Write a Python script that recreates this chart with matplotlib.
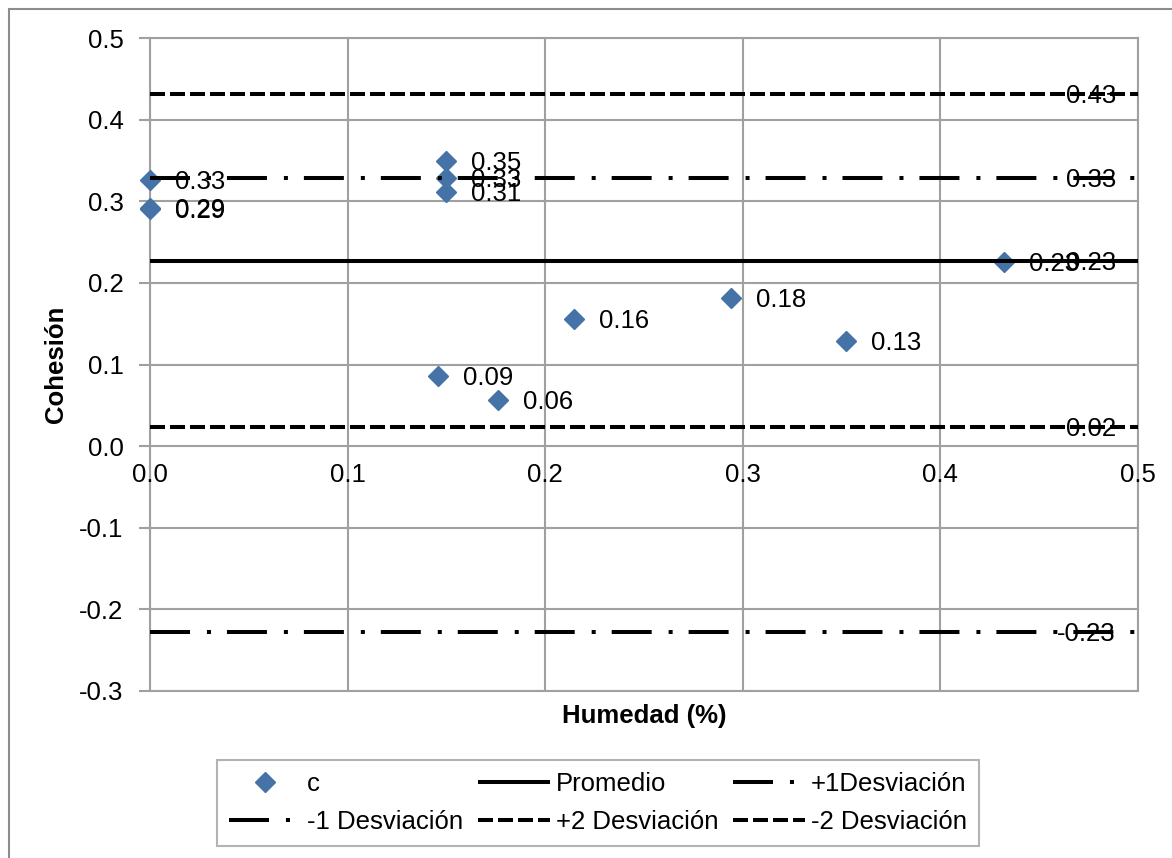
import matplotlib
matplotlib.use("Agg")
import matplotlib.pyplot as plt
from matplotlib.patches import Rectangle

plt.rcParams['font.family'] = ['Liberation Sans', 'DejaVu Sans']
plt.rcParams['lines.scale_dashes'] = False

# ---- data ----
humedad = [0.0, 0.0, 0.0, 0.150, 0.150, 0.150, 0.432, 0.2146, 0.294, 0.352, 0.1457, 0.176]
cohesion = [0.326, 0.291, 0.292, 0.349, 0.328, 0.311, 0.226, 0.156, 0.182, 0.1286, 0.086, 0.056]

line_names = ['Promedio', '+1Desviación', '-1 Desviación', '+2 Desviación', '-2 Desviación']
line_values = [0.2265, 0.329, -0.228, 0.432, 0.023]
line_x = [0.0, 0.5]

x_ticks = [0.0, 0.1, 0.2, 0.3, 0.4, 0.5]
y_ticks = [-0.3, -0.2, -0.1, 0.0, 0.1, 0.2, 0.3, 0.4, 0.5]

# ---- styles ----
W, H = 1172, 858
fig = plt.figure(figsize=(W / 100, H / 100), dpi=100)
ax = fig.add_axes([150 / W, 1 - 691 / H, (1138 - 150) / W, (691 - 38) / H])

FS = 18.5
grid_c = '#a0a0a0'
blue = '#4572A7'
lw = 2.9
dashdot = (0, (28.8, 12.2, 2.9, 11.5))
dashed = (0, (10.8, 3.6))
styles = ['-', dashdot, dashdot, dashed, dashed]

ax.set_xlim(0, 0.5)
ax.set_ylim(-0.3, 0.5)
ax.set_xticks(x_ticks)
ax.set_yticks(y_ticks)
ax.set_yticklabels([f'{v:.1f}' for v in y_ticks], fontsize=FS)
ax.tick_params(axis='x', length=0, labelbottom=False)
ax.tick_params(axis='y', length=8, width=1.5, color=grid_c, pad=11)
ax.grid(True, color=grid_c, linewidth=1.5)
ax.set_axisbelow(True)
for s in ax.spines.values():
    s.set_color(grid_c)
    s.set_linewidth(1.5)

sec = ax.secondary_xaxis(0.3 / 0.8)
sec.set_xticks(x_ticks)
sec.set_xticklabels([f'{v:.1f}' for v in x_ticks], fontsize=FS)
sec.tick_params(length=0, pad=12)
sec.spines['bottom'].set_visible(False)
sec.set_zorder(10)

# scatter
ax.plot(humedad, cohesion, linestyle='none', marker='D', markersize=10.5,
        color=blue, markeredgecolor=blue, zorder=3, label='c', clip_on=False)
for xv, yv in zip(humedad, cohesion):
    ax.annotate(f'{yv:.2f}', (xv, yv), xytext=(25, -2), textcoords='offset pixels',
                ha='left', va='center', fontsize=FS, zorder=6)

# horizontal lines
for name, val, st in zip(line_names, line_values, styles):
    ax.plot(line_x, [val, val], color='black', linewidth=lw, linestyle=st,
            zorder=4, label=name, solid_capstyle='butt', dash_capstyle='butt')
    ax.annotate(f'{val:.2f}', (line_x[-1], val), xytext=(-22, -2),
                textcoords='offset pixels', ha='right', va='center',
                fontsize=FS, zorder=6)

ax.set_xlabel('Humedad (%)', fontsize=FS, fontweight='bold', labelpad=9)
ax.set_ylabel('Cohesión', fontsize=FS, fontweight='bold', labelpad=8)

handles, labels = ax.get_legend_handles_labels()
order = [0, 3, 1, 4, 2, 5]  # row-major fill for 3 columns
leg = fig.legend([handles[i] for i in order], [labels[i] for i in order],
                 loc='center', bbox_to_anchor=(598 / W, 1 - 803 / H),
                 ncol=3, fontsize=FS, frameon=True, fancybox=False, edgecolor=grid_c,
                 handlelength=2.8, handletextpad=0.25, columnspacing=0.55,
                 borderpad=0.45, labelspacing=0.55)
leg.get_frame().set_linewidth(1.5)

fig.patches.append(Rectangle((9 / W, -0.05), 1.2, 1 - 9 / H + 0.05,
                             transform=fig.transFigure, fill=False,
                             edgecolor='#8c8c8c', linewidth=1.5, clip_on=False))

fig.savefig('out.png', dpi=100)
